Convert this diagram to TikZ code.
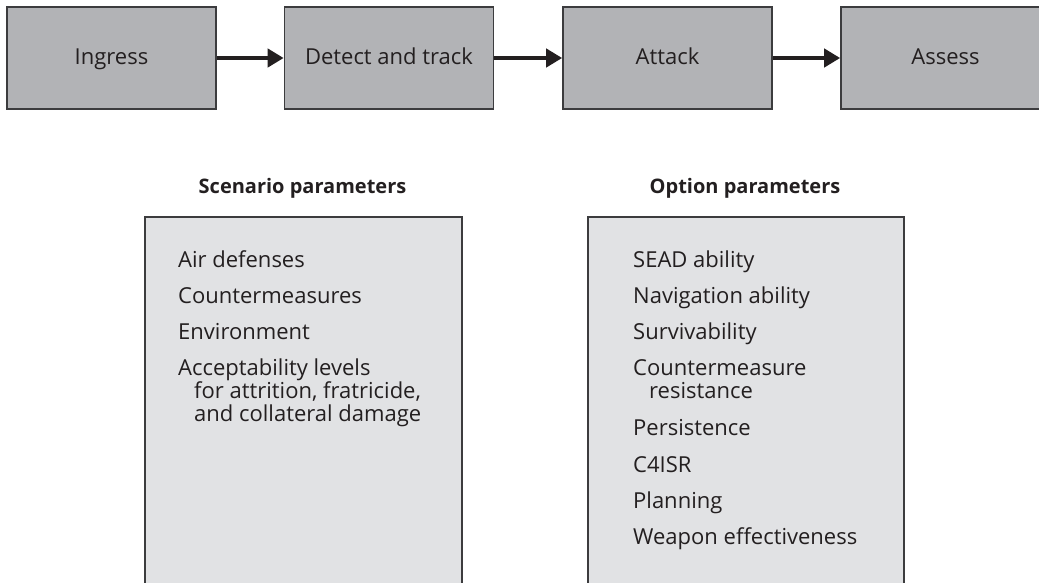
\documentclass[tikz,border=0pt]{standalone}
\usepackage{fontspec}
\setmainfont{Open Sans}
\usetikzlibrary{arrows.meta}
\definecolor{stagefill}{HTML}{B2B3B6}
\definecolor{panelfill}{HTML}{E1E2E4}
\definecolor{edge}{HTML}{3C3C3E}
\definecolor{ink}{HTML}{231F20}
\tikzset{
  stagebox/.style={draw=edge, line width=1.6pt, fill=stagefill, minimum width=209pt, minimum height=102pt, inner sep=0pt, text height=16pt, text depth=4pt, text=ink, font=\fontsize{22}{26}\selectfont},
  panelbox/.style={draw=edge, line width=1.6pt, fill=panelfill, inner sep=0pt, anchor=north west},
  flow/.style={draw=ink, line width=4pt, -{Triangle[length=16pt,width=18pt]}},
  paneltitle/.style={anchor=base, text=ink, inner sep=0pt, font=\fontsize{20}{24}\selectfont\bfseries},
  item/.style={anchor=base west, text=ink, inner sep=0pt, font=\fontsize{22}{26}\selectfont},
}
\begin{document}
\begin{tikzpicture}[x=1pt,y=-1pt]
\useasboundingbox (0,0) rectangle (1039,582);
\begin{scope}
\clip (0,0) rectangle (1039,582);
% process stages
\node[stagebox] (ingress) at (111.5,58) {Ingress};
\node[stagebox] (detect) at (389,58) {Detect and track};
\node[stagebox] (attack) at (667.5,58) {Attack};
\node[stagebox] (assess) at (945.5,58) {Assess};
\draw[flow] (ingress.east) -- (detect.west);
\draw[flow] (detect.east) -- (attack.west);
\draw[flow] (attack.east) -- (assess.west);
% parameter panels
\node[panelbox, minimum width=317pt, minimum height=380pt] (scen) at (144,216) {};
\node[panelbox, minimum width=316pt, minimum height=380pt] (opt) at (587,216) {};
\end{scope}
\node[paneltitle] (scentitle) at (302.5,193) {Scenario parameters};
\node[paneltitle] (opttitle) at (745,193) {Option parameters};
% scenario items
\node[item] (s1) at (178,267) {Air defenses};
\node[item] (s2) at (178,303) {Countermeasures};
\node[item] (s3) at (178,339) {Environment};
\node[item] (s4) at (178,375) {Acceptability levels};
\node[item] (s4b) at (194,398) {for attrition, fratricide,};
\node[item] (s4c) at (194,421) {and collateral damage};
% option items
\node[item] (o1) at (633,267) {SEAD ability};
\node[item] (o2) at (633,303) {Navigation ability};
\node[item] (o3) at (633,339) {Survivability};
\node[item] (o4) at (633,375) {Countermeasure};
\node[item] (o4b) at (649,398) {resistance};
\node[item] (o5) at (633,435) {Persistence};
\node[item] (o6) at (633,472) {C4ISR};
\node[item] (o7) at (633,508) {Planning};
\node[item] (o8) at (633,544) {Weapon effectiveness};
\end{tikzpicture}
\end{document}
